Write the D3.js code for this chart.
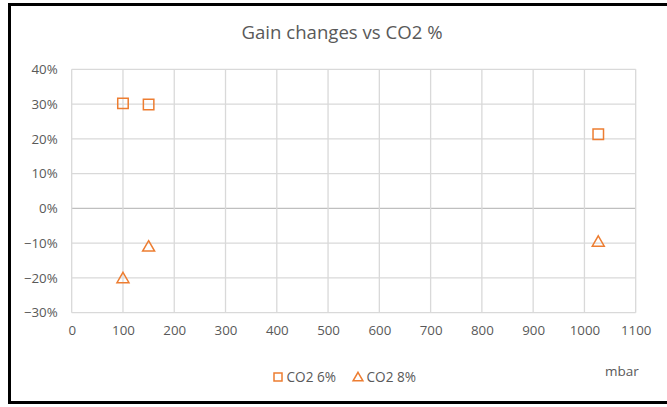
<!DOCTYPE html>
<html><head><meta charset="utf-8">
<script src="https://cdn.jsdelivr.net/npm/d3@7"></script>
<style>body{margin:0;background:#fff}svg{display:block}</style>
</head><body>
<script>
const xTicks = [0,100,200,300,400,500,600,700,800,900,1000,1100];
const yTicks = [-0.3,-0.2,-0.1,0,0.1,0.2,0.3,0.4];
const seriesNames = ["CO2 6%","CO2 8%"];
const co2_6_x = [100,150,1027];
const co2_6_y = [0.302,0.299,0.213];
const co2_8_x = [100,150,1027];
const co2_8_y = [-0.201,-0.110,-0.096];

const W=667,H=407;
const svg=d3.select("body").append("svg").attr("width",W).attr("height",H);
const font="'Open Sans', sans-serif";
const gray="#595959";
const orange="#ED7D31";

svg.append("rect").attr("x",0).attr("y",0).attr("width",W).attr("height",H).attr("fill","#fff");
svg.append("rect").attr("x",9.5).attr("y",4.5).attr("width",670).attr("height",398)
  .attr("fill","none").attr("stroke","#000").attr("stroke-width",3);

const x=d3.scaleLinear().domain([0,1100]).range([71.7,635.7]);
const y=d3.scaleLinear().domain([-0.3,0.4]).range([312.7,69.3]);

// gridlines
svg.append("g").selectAll("line").data(yTicks).join("line")
  .attr("x1",x(0)).attr("x2",x(1100)).attr("y1",d=>y(d)).attr("y2",d=>y(d))
  .attr("stroke",d=>d===0?"#bfbfbf":"#d9d9d9").attr("stroke-width",1.3);
svg.append("g").selectAll("line").data(xTicks).join("line")
  .attr("y1",y(-0.3)).attr("y2",y(0.4)).attr("x1",d=>x(d)).attr("x2",d=>x(d))
  .attr("stroke","#d9d9d9").attr("stroke-width",1.3);

// axes labels using d3 axis
const xa=svg.append("g").attr("transform",`translate(0,${y(-0.3)})`)
  .call(d3.axisBottom(x).tickValues(xTicks).tickSize(0).tickPadding(13).tickFormat(d3.format("d")));
xa.select(".domain").remove();
xa.selectAll("text").attr("fill",gray).attr("font-size",13.3).attr("font-family",font);
const ya=svg.append("g").attr("transform",`translate(${x(0)},0)`)
  .call(d3.axisLeft(y).tickValues(yTicks).tickSize(0).tickPadding(14).tickFormat(d3.format(".0%")));
ya.select(".domain").remove();
ya.selectAll("text").attr("fill",gray).attr("font-size",13.3).attr("font-family",font);

// title
svg.append("text").attr("x",342).attr("y",39).attr("text-anchor","middle")
  .attr("fill",gray).attr("font-size",18.6).attr("font-family",font).text("Gain changes vs CO2 %");

// markers
const sq=d3.symbol().type(d3.symbolSquare).size(110);
const tri=d3.symbol().type(d3.symbolTriangle).size(62);
svg.append("g").selectAll("path").data(co2_6_x.map((v,i)=>[v,co2_6_y[i]])).join("path")
  .attr("d",sq).attr("transform",d=>`translate(${x(d[0])},${y(d[1])})`)
  .attr("fill","none").attr("stroke",orange).attr("stroke-width",1.5);
svg.append("g").selectAll("path").data(co2_8_x.map((v,i)=>[v,co2_8_y[i]])).join("path")
  .attr("d",tri).attr("transform",d=>`translate(${x(d[0])},${y(d[1])+1})`)
  .attr("fill","none").attr("stroke",orange).attr("stroke-width",1.5);

// x-axis title
svg.append("text").attr("x",622).attr("y",376).attr("text-anchor","middle")
  .attr("fill",gray).attr("font-size",13.5).attr("font-family",font).text("mbar");

// legend
const lg=svg.append("g");
const items=[{n:seriesNames[0],x:278},{n:seriesNames[1],x:358}];
items.forEach((it,i)=>{
  lg.append("path").attr("d",(i===0?d3.symbol().type(d3.symbolSquare).size(64):d3.symbol().type(d3.symbolTriangle).size(42))())
    .attr("transform",`translate(${it.x},${i===0?377:378})`)
    .attr("fill","none").attr("stroke",orange).attr("stroke-width",1.5);
  lg.append("text").attr("x",it.x+8.5).attr("y",382).attr("fill",gray)
    .attr("font-size",13.6).attr("font-family",font).text(it.n);
});
</script>
</body></html>
